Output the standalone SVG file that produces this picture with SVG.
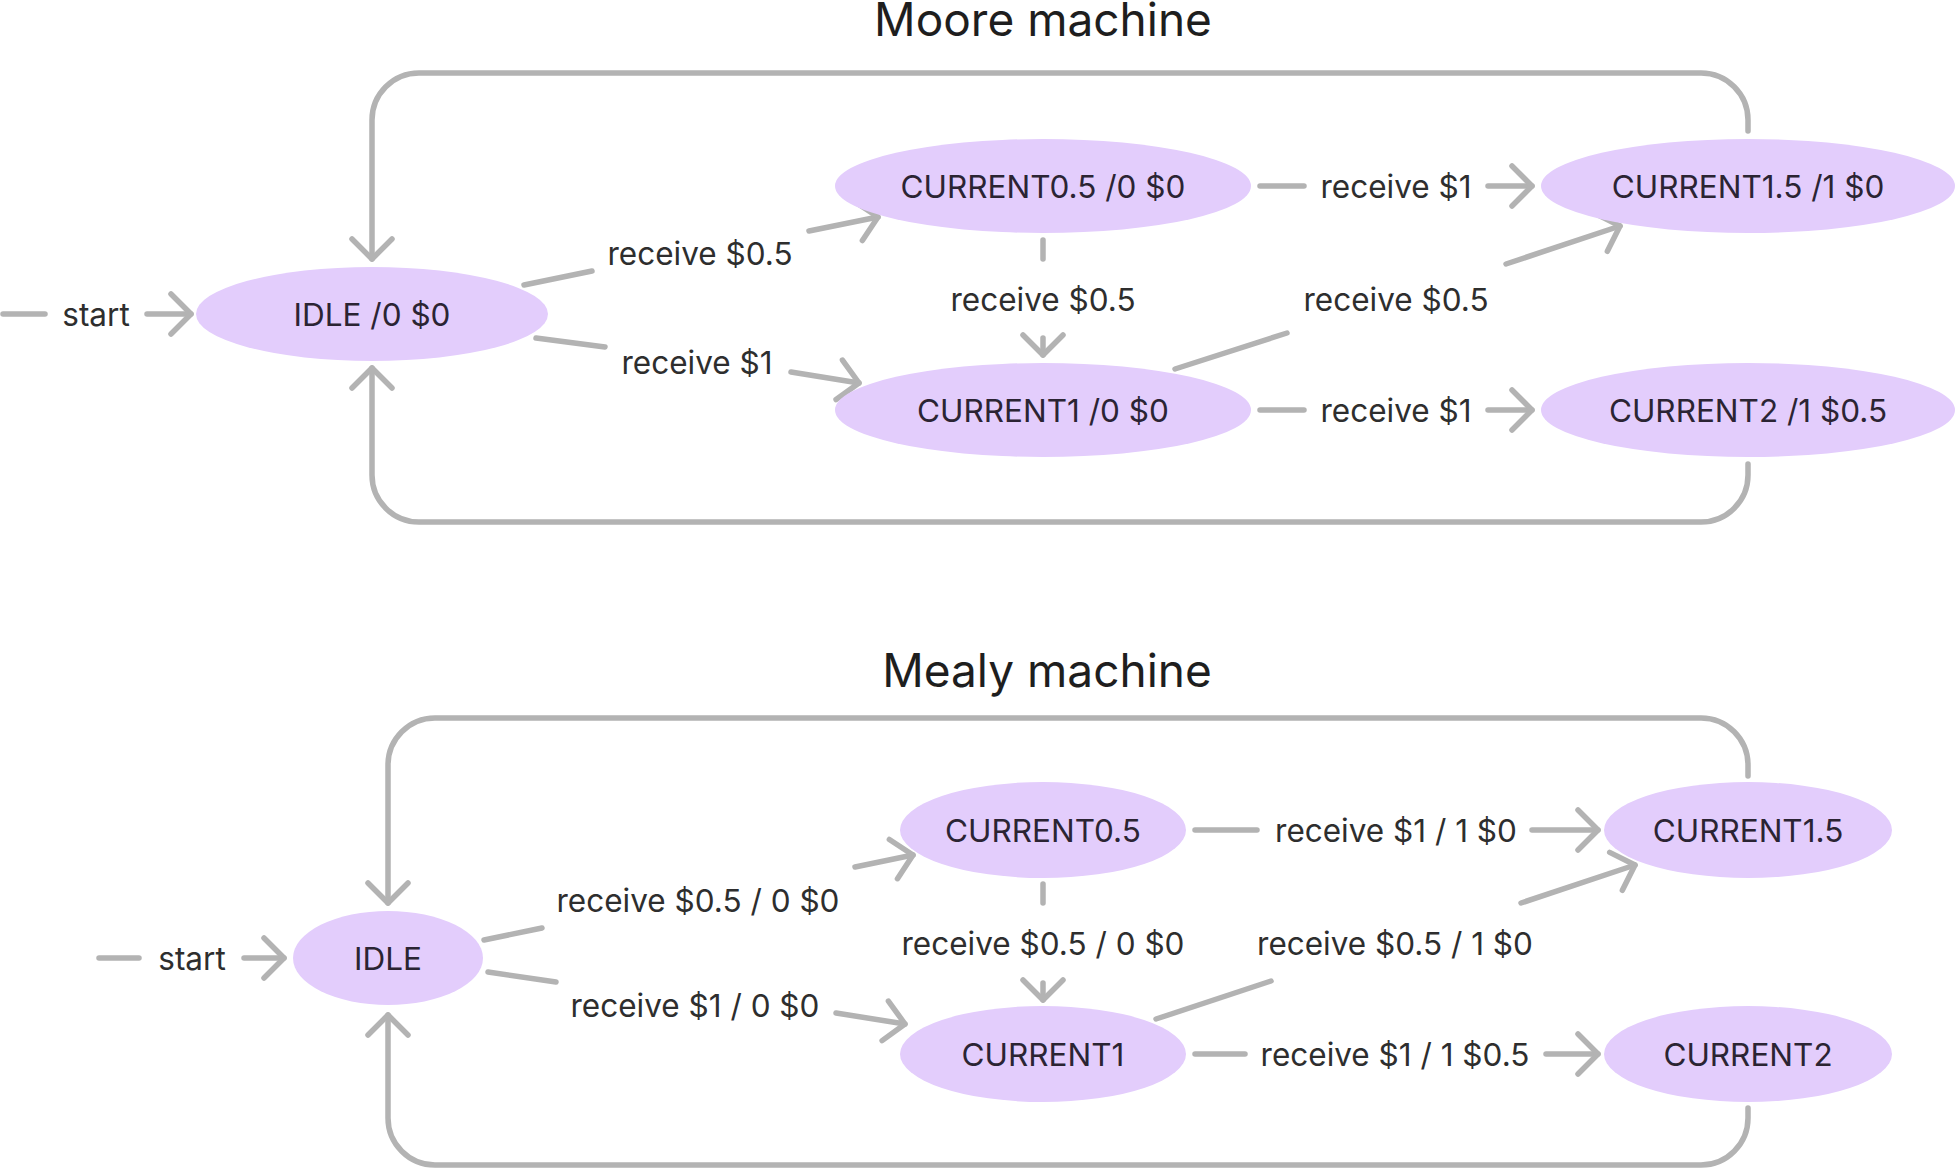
<svg xmlns="http://www.w3.org/2000/svg" width="1956" height="1169" viewBox="0 0 1956 1169">
<style>
  .title { font-family: Inter, "Liberation Sans", sans-serif; font-size: 46px; fill: #1e1e1e; text-anchor: middle; }
  .node ellipse { fill: #e3cdfc; }
  .node text { font-family: Inter, "Liberation Sans", sans-serif; font-size: 31.5px; fill: #2b2433; text-anchor: middle; dominant-baseline: central; }
  .lbl { font-family: Inter, "Liberation Sans", sans-serif; font-size: 31.5px; fill: #2e2e2e; text-anchor: middle; dominant-baseline: central; }
  .edge { fill: none; stroke: #b3b3b3; stroke-width: 5.5; stroke-linecap: round; stroke-linejoin: round; }
  .arr { marker-end: url(#chev); }
</style>
<defs>
  <marker id="chev" markerUnits="userSpaceOnUse" viewBox="-30 -30 40 60" refX="0" refY="0" markerWidth="40" markerHeight="60" orient="auto" overflow="visible">
    <path d="M-20,-20 L0,0 L-20,20" fill="none" stroke="#b3b3b3" stroke-width="5.5" stroke-linecap="round" stroke-linejoin="round"/>
  </marker>
</defs>
<rect width="1956" height="1169" fill="#ffffff"/>

<text class="title" x="1043" y="36">Moore machine</text>
<text class="title" x="1047" y="687">Mealy machine</text>

<g id="connectors">
  <!-- Moore -->
  <path class="edge" d="M3,314 L45,314"/>
  <path class="edge arr" d="M147,314 L191,314"/>
  <path class="edge arr" d="M1748,131 L1748,120 A47,47 0 0 0 1701,73 L419,73 A47,47 0 0 0 372,120 L372,259"/>
  <path class="edge arr" d="M1748,464 L1748,475 A47,47 0 0 1 1701,522 L419,522 A47,47 0 0 1 372,475 L372,368"/>
  <path class="edge" d="M524,285 L592,271"/>
  <path class="edge arr" d="M809,231 L878,217"/>
  <path class="edge" d="M536,338 L605,347"/>
  <path class="edge arr" d="M791,372 L859,383"/>
  <path class="edge" d="M1260,186 L1304,186"/>
  <path class="edge arr" d="M1488,186 L1532,186"/>
  <path class="edge" d="M1260,410 L1304,410"/>
  <path class="edge arr" d="M1488,410 L1532,410"/>
  <path class="edge" d="M1043,240 L1043,259"/>
  <path class="edge arr" d="M1043,338 L1043,355"/>
  <path class="edge" d="M1175,369 L1287,333"/>
  <path class="edge arr" d="M1506,264 L1620,226"/>

  <!-- Mealy -->
  <path class="edge" d="M99,958 L139,958"/>
  <path class="edge arr" d="M244,958 L284,958"/>
  <path class="edge arr" d="M1748,776 L1748,765 A47,47 0 0 0 1701,718 L435,718 A47,47 0 0 0 388,765 L388,903"/>
  <path class="edge arr" d="M1748,1108 L1748,1118 A47,47 0 0 1 1701,1165 L435,1165 A47,47 0 0 1 388,1118 L388,1015"/>
  <path class="edge" d="M484,940 L542,928"/>
  <path class="edge arr" d="M855,867 L913,855"/>
  <path class="edge" d="M488,972 L556,982"/>
  <path class="edge arr" d="M836,1013 L905,1024"/>
  <path class="edge" d="M1195,830 L1257,830"/>
  <path class="edge arr" d="M1532,830 L1598,830"/>
  <path class="edge" d="M1195,1054 L1245,1054"/>
  <path class="edge arr" d="M1546,1054 L1598,1054"/>
  <path class="edge" d="M1043,884 L1043,903"/>
  <path class="edge arr" d="M1043,983 L1043,1000"/>
  <path class="edge" d="M1156,1019 L1271,981"/>
  <path class="edge arr" d="M1521,903 L1635,865"/>

  <!-- labels -->
  <text class="lbl" x="96" y="314">start</text>
  <text class="lbl" x="700" y="253">receive $0.5</text>
  <text class="lbl" x="697" y="362">receive $1</text>
  <text class="lbl" x="1396" y="186">receive $1</text>
  <text class="lbl" x="1043" y="299">receive $0.5</text>
  <text class="lbl" x="1396" y="299">receive $0.5</text>
  <text class="lbl" x="1396" y="410">receive $1</text>

  <text class="lbl" x="192" y="958">start</text>
  <text class="lbl" x="698" y="900">receive $0.5 / 0 $0</text>
  <text class="lbl" x="695" y="1005">receive $1 / 0 $0</text>
  <text class="lbl" x="1396" y="830">receive $1 / 1 $0</text>
  <text class="lbl" x="1043" y="943">receive $0.5 / 0 $0</text>
  <text class="lbl" x="1395" y="943">receive $0.5 / 1 $0</text>
  <text class="lbl" x="1395" y="1054">receive $1 / 1 $0.5</text>
</g>

<g id="moore-idle" class="node"><ellipse cx="372" cy="314" rx="176" ry="47"/><text x="372" y="314">IDLE /0 $0</text></g>
<g id="moore-current05" class="node"><ellipse cx="1043" cy="186" rx="208" ry="47"/><text x="1043" y="186">CURRENT0.5 /0 $0</text></g>
<g id="moore-current1" class="node"><ellipse cx="1043" cy="410" rx="208" ry="47"/><text x="1043" y="410">CURRENT1 /0 $0</text></g>
<g id="moore-current15" class="node"><ellipse cx="1748" cy="186" rx="207" ry="47"/><text x="1748" y="186">CURRENT1.5 /1 $0</text></g>
<g id="moore-current2" class="node"><ellipse cx="1748" cy="410" rx="207" ry="47"/><text x="1748" y="410">CURRENT2 /1 $0.5</text></g>

<g id="mealy-idle" class="node"><ellipse cx="388" cy="958" rx="95" ry="47"/><text x="388" y="958">IDLE</text></g>
<g id="mealy-current05" class="node"><ellipse cx="1043" cy="830" rx="143" ry="48"/><text x="1043" y="830">CURRENT0.5</text></g>
<g id="mealy-current1" class="node"><ellipse cx="1043" cy="1054" rx="143" ry="48"/><text x="1043" y="1054">CURRENT1</text></g>
<g id="mealy-current15" class="node"><ellipse cx="1748" cy="830" rx="144" ry="48"/><text x="1748" y="830">CURRENT1.5</text></g>
<g id="mealy-current2" class="node"><ellipse cx="1748" cy="1054" rx="144" ry="48"/><text x="1748" y="1054">CURRENT2</text></g>
</svg>
